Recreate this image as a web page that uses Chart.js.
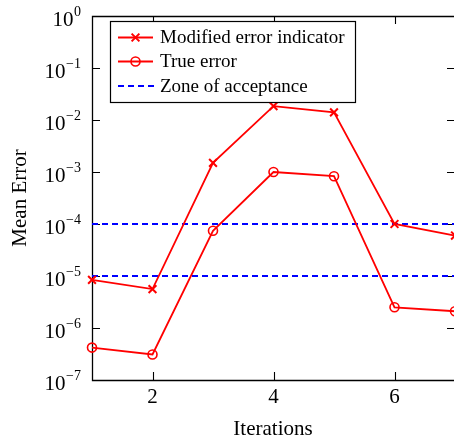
<!DOCTYPE html>
<html><head><meta charset="utf-8">
<script src="https://cdn.jsdelivr.net/npm/chart.js@4.4.0/dist/chart.umd.min.js"></script>
<style>html,body{margin:0;padding:0;overflow:hidden;background:#fff;width:454px;height:441px}#wrap{position:relative;width:454px;height:441px;overflow:hidden}#c{display:block;position:absolute;left:0;top:0}</style>
</head><body><div id="wrap"><canvas id="c" width="458" height="441" style="width:458px;height:441px"></canvas></div>
<script>
const iterations = [1, 2, 3, 4, 5, 6, 7];
const modifiedErrorIndicator = [8.4e-6, 5.6e-6, 1.5e-3, 1.85e-2, 1.4e-2, 1.0e-4, 6.0e-5];
const trueError = [4.2e-7, 3.1e-7, 7.4e-5, 1.0e-3, 8.3e-4, 2.5e-6, 2.1e-6];
const acceptanceLimits = [1e-4, 1e-5];
const xTickValues = [2, 4, 6];
const yTickExponents = [0, -1, -2, -3, -4, -5, -6, -7];
const legendLabels = ['Modified error indicator', 'True error', 'Zone of acceptance'];
const xTitle = 'Iterations';
const yTitle = 'Mean Error';

const RED = '#ff0000', BLUE = '#0000ff';
const FONT = '"Liberation Serif", "Times New Roman", serif';

const pts = (ys) => iterations.map((x, i) => ({x, y: ys[i]}));
const hline = (v) => [{x: iterations[0], y: v}, {x: iterations[iterations.length - 1], y: v}];

const datasets = [
  {label: legendLabels[0], data: pts(modifiedErrorIndicator), borderColor: RED, borderWidth: 1.8,
   pointStyle: 'crossRot', pointRadius: 5.5, pointBorderWidth: 2, pointBorderColor: RED, backgroundColor: RED, clip: false},
  {label: legendLabels[1], data: pts(trueError), borderColor: RED, borderWidth: 1.8,
   pointStyle: 'circle', pointRadius: 4.5, pointBorderWidth: 1.6, pointBorderColor: RED, pointBackgroundColor: 'rgba(0,0,0,0)', clip: false},
  ...acceptanceLimits.map((v, i) => ({label: i === 0 ? legendLabels[2] : '', data: hline(v), borderColor: BLUE, borderWidth: 2,
   borderDash: [6, 4], pointRadius: 0, clip: false}))
];

const axesPlugin = {
  id: 'axesPlugin',
  beforeDatasetsDraw(chart) {
    const {ctx, chartArea: a, scales: {x, y}} = chart;
    ctx.save();
    ctx.strokeStyle = '#000';
    ctx.lineWidth = 1.3;
    ctx.beginPath();
    ctx.rect(Math.round(a.left) + 0.5, Math.round(a.top) + 0.5, Math.round(a.right - a.left), Math.round(a.bottom - a.top));
    ctx.stroke();
    const tl = 8;
    ctx.lineWidth = 1.1;
    ctx.beginPath();
    yTickExponents.forEach(e => {
      const py = Math.round(y.getPixelForValue(Math.pow(10, e))) + 0.5;
      ctx.moveTo(a.left, py); ctx.lineTo(a.left + tl, py);
      ctx.moveTo(a.right, py); ctx.lineTo(a.right - tl, py);
    });
    xTickValues.forEach(v => {
      const px = Math.round(x.getPixelForValue(v)) + 0.5;
      ctx.moveTo(px, a.bottom); ctx.lineTo(px, a.bottom - tl);
      ctx.moveTo(px, a.top); ctx.lineTo(px, a.top + tl);
    });
    ctx.stroke();
    ctx.restore();
  },
  afterDraw(chart) {
    const {ctx, chartArea: a, scales: {x, y}} = chart;
    ctx.save();
    ctx.fillStyle = '#000';
    // y tick labels with superscripts
    const rightEdge = 81;
    yTickExponents.forEach(e => {
      const py = y.getPixelForValue(Math.pow(10, e));
      const expTxt = e < 0 ? '\u2212' + (-e) : String(e);
      ctx.font = '14px ' + FONT;
      const ew = ctx.measureText(expTxt).width;
      ctx.textAlign = 'right';
      ctx.textBaseline = 'alphabetic';
      ctx.fillText(expTxt, rightEdge, py);
      ctx.font = '21px ' + FONT;
      ctx.fillText('10', rightEdge - ew - 0.5, py + 10);
    });
    // x tick labels
    ctx.font = '21px ' + FONT;
    ctx.textAlign = 'center';
    xTickValues.forEach(v => {
      ctx.fillText(String(v), x.getPixelForValue(v), 402.5);
    });
    // axis titles
    ctx.fillText(xTitle, 273, 435);
    ctx.save();
    ctx.translate(25.5, (a.top + a.bottom) / 2);
    ctx.rotate(-Math.PI / 2);
    ctx.fillText(yTitle, 0, 0);
    ctx.restore();
    // legend
    const bx = 110.5, by = 21.5, bw = 245, bh = 81;
    ctx.fillStyle = '#fff';
    ctx.fillRect(bx, by, bw, bh);
    ctx.strokeStyle = '#000';
    ctx.lineWidth = 1.2;
    ctx.strokeRect(bx, by, bw, bh);
    const rows = [37.5, 61.5, 86];
    const x0 = 118, x1 = 153, xm = (x0 + x1) / 2;
    ctx.lineWidth = 1.8;
    ctx.strokeStyle = RED;
    ctx.beginPath(); ctx.moveTo(x0, rows[0]); ctx.lineTo(x1, rows[0]); ctx.stroke();
    ctx.lineWidth = 2;
    const r = 5.5 * Math.SQRT1_2;
    ctx.beginPath();
    ctx.moveTo(xm - r, rows[0] - r); ctx.lineTo(xm + r, rows[0] + r);
    ctx.moveTo(xm + r, rows[0] - r); ctx.lineTo(xm - r, rows[0] + r);
    ctx.stroke();
    ctx.lineWidth = 1.8;
    ctx.beginPath(); ctx.moveTo(x0, rows[1]); ctx.lineTo(x1, rows[1]); ctx.stroke();
    ctx.lineWidth = 1.6;
    ctx.beginPath(); ctx.arc(xm, rows[1], 4.5, 0, Math.PI * 2); ctx.stroke();
    ctx.strokeStyle = BLUE;
    ctx.lineWidth = 2;
    ctx.setLineDash([6, 4]);
    ctx.beginPath(); ctx.moveTo(x0, rows[2]); ctx.lineTo(x1 + 2, rows[2]); ctx.stroke();
    ctx.setLineDash([]);
    ctx.fillStyle = '#000';
    ctx.font = '19px ' + FONT;
    ctx.textAlign = 'left';
    ctx.textBaseline = 'middle';
    legendLabels.forEach((t, i) => ctx.fillText(t, 160, rows[i] + 1));
    ctx.restore();
  }
};

new Chart(document.getElementById('c'), {
  type: 'line',
  data: {datasets},
  options: {
    responsive: false,
    devicePixelRatio: 1,
    animation: false,
    layout: {autoPadding: false, padding: {left: 92, top: 16, right: 3, bottom: 61}},
    plugins: {legend: {display: false}, tooltip: {enabled: false}},
    elements: {line: {tension: 0}},
    scales: {
      x: {type: 'linear', min: 1, max: 7, display: false},
      y: {type: 'logarithmic', min: 1e-7, max: 1, display: false}
    }
  },
  plugins: [axesPlugin]
});
</script>
</body></html>
